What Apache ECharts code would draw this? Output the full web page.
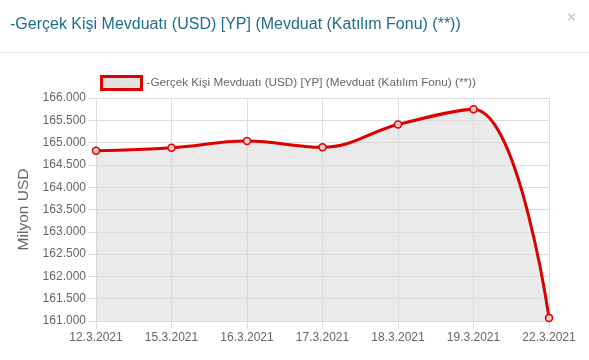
<!DOCTYPE html>
<html><head><meta charset="utf-8">
<script src="https://cdn.jsdelivr.net/npm/echarts@6/dist/echarts.min.js"></script>
<style>html,body{margin:0;padding:0;background:#fff}#c{width:589px;height:360px}</style>
</head><body><div id="c"></div>
<script>
const titleText = "-Gerçek Kişi Mevduatı (USD) [YP] (Mevduat (Katılım Fonu) (**))";
const seriesName = "-Gerçek Kişi Mevduatı (USD) [YP] (Mevduat (Katılım Fonu) (**))";
const categories = ["12.3.2021","15.3.2021","16.3.2021","17.3.2021","18.3.2021","19.3.2021","22.3.2021"];
const values = [164815, 164885, 165035, 164895, 165405, 165750, 161070];
const yAxisName = "Milyon USD";

const chart = echarts.init(document.getElementById('c'));
const font = "'Liberation Sans', Arial, sans-serif";
chart.setOption({
  animation: false,
  textStyle: { fontFamily: font },
  title: { text: titleText, left: 5, top: 12, textStyle: { color: '#1f6d8c', fontSize: 16, fontWeight: 'normal', fontFamily: font } },
  graphic: [
    { type: 'text', left: 567, top: 10, style: { text: '×', fill: '#ccc', font: "bold 15px " + font } },
    { type: 'rect', shape: { x: 0, y: 52, width: 589, height: 1 }, style: { fill: '#e5e5e5' } }
  ],
  legend: {
    left: 95, top: 70, itemWidth: 40, itemHeight: 13, itemGap: 5,
    icon: 'rect',
    textStyle: { color: '#666', fontSize: 11.7, fontFamily: font },
    data: [{ name: seriesName, itemStyle: { color: '#e2e2e2', borderColor: '#dd0000', borderWidth: 3 } }]
  },
  grid: { left: 96, right: 40, top: 98, bottom: 39, containLabel: false },
  xAxis: {
    type: 'category', data: categories, boundaryGap: false,
    axisLine: { show: true, lineStyle: { color: '#ddd' } },
    axisTick: { show: true, length: 8, alignWithLabel: true, lineStyle: { color: '#ddd' } },
    axisLabel: { color: '#666', fontSize: 12, margin: 11, fontFamily: font },
    splitLine: { show: true, lineStyle: { color: '#ddd' } }
  },
  yAxis: {
    type: 'value', min: 161000, max: 166000, interval: 500,
    name: yAxisName, nameLocation: 'middle', nameGap: 59,
    nameTextStyle: { color: '#666', fontSize: 15.5, fontFamily: font },
    axisLine: { show: true, lineStyle: { color: '#ddd' } },
    axisTick: { show: true, length: 8, lineStyle: { color: '#ddd' } },
    axisLabel: { color: '#666', fontSize: 12, margin: 10, fontFamily: font,
      formatter: v => { const s = String(Math.round(v)); return s.slice(0, s.length-3) + '.' + s.slice(-3); } },
    splitLine: { show: true, lineStyle: { color: '#ddd' } }
  },
  series: [{
    name: seriesName, type: 'line', data: values, smooth: 0.4,
    symbol: 'circle', symbolSize: 7, showSymbol: true,
    itemStyle: { color: '#efc8c8', borderColor: '#dd0000', borderWidth: 1.5 },
    lineStyle: { color: '#dd0000', width: 3 },
    areaStyle: { color: 'rgba(215,215,215,0.75)', origin: 'start' }
  }]
});
</script></body></html>
